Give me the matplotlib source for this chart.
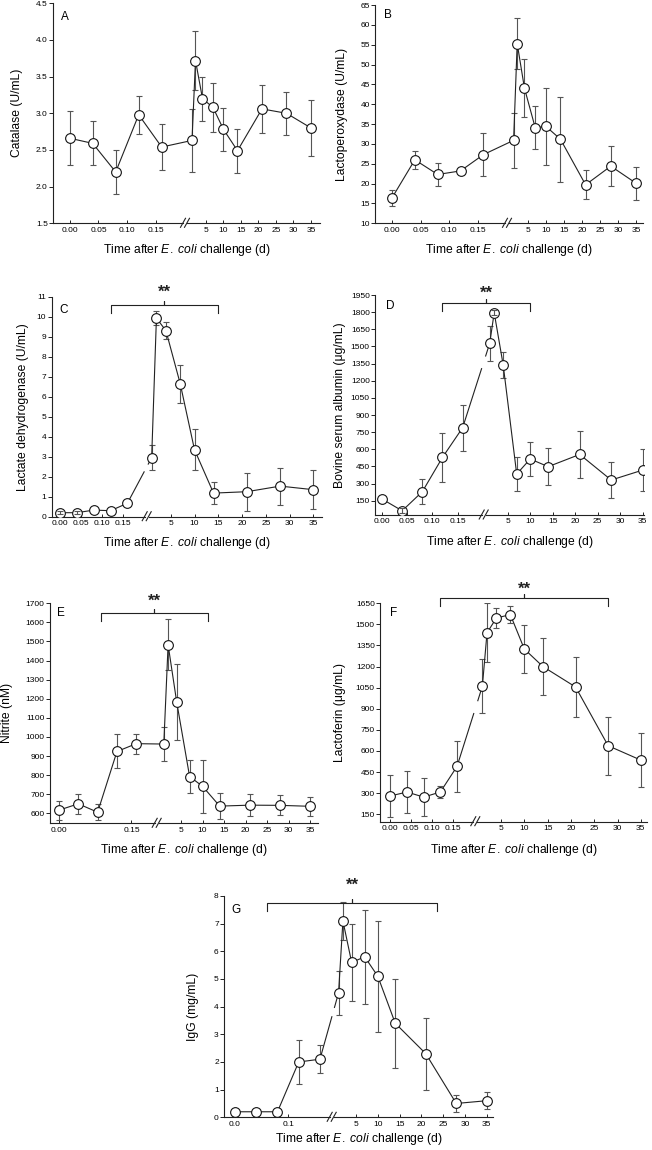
import numpy as np
import matplotlib
matplotlib.use('Agg')
import matplotlib.pyplot as plt

plt.rcParams['font.family'] = ['Liberation Sans', 'DejaVu Sans']
plt.rcParams['mathtext.fontset'] = 'custom'
plt.rcParams['mathtext.rm'] = 'Liberation Sans'
plt.rcParams['mathtext.it'] = 'Liberation Sans:italic'

W, H = 652, 1150

# sampling times (d); first five in the short segment before the axis break
days = [0, 0.04, 0.08, 0.12, 0.16, 1, 2, 4, 7, 10, 14, 21, 28, 35]

catalase = [2.66, 2.59, 2.20, 2.98, 2.54, 2.63, 3.72, 3.20, 3.08, 2.78, 2.49, 3.06, 3.00, 2.80]
catalase_err = [0.37, 0.30, 0.30, 0.26, 0.31, 0.43, 0.40, 0.30, 0.33, 0.29, 0.30, 0.33, 0.29, 0.38]

lpo = [16.4, 26.0, 22.3, 23.2, 27.3, 30.9, 55.3, 44.1, 34.1, 34.4, 31.2, 19.7, 24.4, 20.1]
lpo_err = [2.1, 2.2, 3.0, 0.6, 5.4, 7.0, 6.5, 7.3, 5.5, 9.6, 10.7, 3.7, 5.0, 4.2]

ldh = [0.2, 0.2, 0.33, 0.3, 0.67, 2.95, 9.93, 9.3, 6.65, 3.35, 1.18, 1.25, 1.53, 1.35]
ldh_err = [0.07, 0.07, 0, 0, 0, 0.62, 0.35, 0.42, 0.96, 1.03, 0.56, 0.95, 0.92, 0.98]

bsa = [165, 62, 229, 529, 789, 1527, 1795, 1337, 383, 515, 448, 555, 331, 418]
bsa_err = [0, 20, 108, 215, 200, 153, 20, 111, 146, 153, 160, 203, 157, 186]

nitrite = [617, 650, 606, 924, 965, 963, 1483, 1183, 793, 742, 638, 643, 642, 637]
nitrite_err = [50, 53, 43, 89, 52, 88, 133, 197, 88, 139, 70, 57, 52, 50]

lactoferrin = [280, 308, 272, 308, 490, 1060, 1440, 1545, 1570, 1325, 1200, 1055, 637, 535]
lactoferrin_err = [150, 147, 135, 40, 182, 192, 210, 70, 62, 174, 200, 215, 206, 194]

igg = [0.2, 0.2, 0.2, 2.0, 2.1, 4.5, 7.1, 5.6, 5.8, 5.1, 3.4, 2.3, 0.5, 0.6]
igg_err = [0, 0, 0, 0.8, 0.5, 0.8, 0.7, 1.4, 1.7, 2.0, 1.6, 1.3, 0.3, 0.3]

late_ticks = [5, 10, 15, 20, 25, 30, 35]
early_ticks = [0, 0.05, 0.10, 0.15]
early_labels = ['0.00', '0.05', '0.10', '0.15']

panels = [
    dict(letter='A', ylabel='Catalase (U/mL)', y=catalase, err=catalase_err,
         ylim=(1.5, 4.5), yticks=np.arange(1.5, 4.51, 0.5), yfmt='{:.1f}',
         early=early_ticks, early_lab=early_labels, bracket=None, gap=None, crossed=[],
         box=(53.3, 3.3, 320, 223.3), x0=69.7, s1=575, x5=206, s5=17.5, xb=185,
         let=(61, 16.7), ylab_x=17, xlab_y=250),
    dict(letter='B', ylabel='Lactoperoxydase (U/mL)', y=lpo, err=lpo_err,
         ylim=(10, 65), yticks=np.arange(10, 66, 5), yfmt='{:.0f}',
         early=early_ticks, early_lab=early_labels, bracket=None, gap=None, crossed=[],
         box=(375.3, 5, 642.7, 223.3), x0=392, s1=571, x5=528, s5=18, xb=507,
         let=(383.7, 15), ylab_x=342, xlab_y=250),
    dict(letter='C', ylabel='Lactate dehydrogenase (U/mL)', y=ldh, err=ldh_err,
         ylim=(0, 11), yticks=np.arange(0, 12, 1), yfmt='{:.0f}',
         early=early_ticks, early_lab=early_labels, bracket=(0.12, 15, 10.6, 17),
         gap=(0.69, 0.86), crossed=[0, 1],
         box=(51.7, 296.7, 321.7, 516.7), x0=60, s1=421, x5=170.7, s5=23.8, xb=146.7,
         let=(59.3, 310), ylab_x=23, xlab_y=543),
    dict(letter='D', ylabel='Bovine serum albumin (\u03bcg/mL)', y=bsa, err=bsa_err,
         ylim=(25, 1950), yticks=np.arange(150, 1951, 150), yfmt='{:.0f}',
         early=early_ticks, early_lab=early_labels, bracket=(0.12, 10, 1882, 15),
         gap=(0.70, 0.85), crossed=[1, 6],
         box=(375.3, 295, 643.7, 515), x0=382, s1=504, x5=507.7, s5=22.5, xb=483.7,
         let=(386, 306), ylab_x=340, xlab_y=542),
    dict(letter='E', ylabel='Nitrite (nM)', y=nitrite, err=nitrite_err,
         ylim=(548, 1700), yticks=np.arange(600, 1701, 100), yfmt='{:.0f}',
         early=[0, 0.15], early_lab=['0.00', '0.15'], bracket=(0.087, 11.2, 1650, 17),
         gap=None, crossed=[],
         box=(50, 603.3, 318.3, 823.3), x0=59, s1=483, x5=181, s5=21.5, xb=156.7,
         let=(56.7, 613.3), ylab_x=7, xlab_y=850),
    dict(letter='F', ylabel='Lactoferin (\u03bcg/mL)', y=lactoferrin, err=lactoferrin_err,
         ylim=(97, 1650), yticks=np.arange(150, 1651, 150), yfmt='{:.0f}',
         early=early_ticks, early_lab=early_labels, bracket=(0.12, 28, 1690, 13),
         gap=(0.66, 0.82), crossed=[],
         box=(380.3, 603.3, 647, 821.7), x0=390.3, s1=417, x5=501, s5=23.3, xb=475.3,
         let=(390.3, 613.3), ylab_x=340, xlab_y=850),
    dict(letter='G', ylabel='IgG (mg/mL)', y=igg, err=igg_err,
         ylim=(0, 8), yticks=np.arange(0, 9, 1), yfmt='{:.0f}',
         early=[0, 0.1], early_lab=['0.0', '0.1'], bracket=(0.061, 23.5, 7.76, 22),
         gap=(0.64, 0.78), crossed=[],
         box=(224.3, 896, 493.3, 1117.3), x0=235, s1=531, x5=356, s5=21.8, xb=331.7,
         let=(231.7, 910), ylab_x=193, xlab_y=1139),
]

LINE = '#222222'
EBAR = '#555555'


def broken_scale(x0, s1, x5, s5):
    # piecewise linear time axis: short early segment, break, long late segment
    tk = np.array([-10, 0, 0.17, 1, 5, 100.0])
    uk = np.array([x0 - 10 * s1, x0, x0 + 0.17 * s1, x5 - 0.8 * s5, x5, x5 + 19 * s5])
    return (lambda t: np.interp(t, tk, uk)), (lambda u: np.interp(u, uk, tk))


def draw_panel(fig, p):
    left, top, right, bottom = p['box']
    wpx, hpx = right - left, bottom - top
    ax = fig.add_axes([left / W, 1 - bottom / H, wpx / W, hpx / H])
    fwd, inv = broken_scale(p['x0'], p['s1'], p['x5'], p['s5'])
    ax.set_xscale('function', functions=(fwd, inv))

    t = np.array(days, dtype=float)
    y = np.array(p['y'], dtype=float)
    e = np.array(p['err'], dtype=float)

    ax.errorbar(t, y, yerr=e, fmt='none', ecolor=EBAR, elinewidth=0.8,
                capsize=2, capthick=0.8, zorder=2)
    if p['gap'] is None:
        ax.plot(t, y, '-', color=LINE, lw=0.8, zorder=3)
    else:
        f1, f2 = p['gap']
        u16, u1 = fwd(t[4]), fwd(t[5])
        ta, tb = inv(u16 + f1 * (u1 - u16)), inv(u16 + f2 * (u1 - u16))
        ya, yb = y[4] + f1 * (y[5] - y[4]), y[4] + f2 * (y[5] - y[4])
        ax.plot(np.append(t[:5], ta), np.append(y[:5], ya), '-', color=LINE, lw=0.8, zorder=3)
        ax.plot(np.insert(t[5:], 0, tb), np.insert(y[5:], 0, yb), '-', color=LINE, lw=0.8, zorder=3)
    ax.plot(t, y, 'o', ms=7, mfc='white', mec='#111111', mew=0.8, zorder=4)
    if p['crossed']:
        idx = p['crossed']
        ax.errorbar(t[idx], y[idx], yerr=e[idx], fmt='none', ecolor=EBAR, elinewidth=0.8,
                    capsize=2, capthick=0.8, zorder=5)

    ax.set_xlim(inv(left), inv(right))
    ax.set_ylim(*p['ylim'])
    ax.set_yticks(p['yticks'])
    ax.set_yticklabels([p['yfmt'].format(v) for v in p['yticks']])
    ax.set_xticks(list(p['early']) + late_ticks)
    ax.set_xticklabels(list(p['early_lab']) + [str(v) for v in late_ticks])
    ax.xaxis.set_minor_locator(plt.NullLocator())

    for s in ['top', 'right', 'bottom']:
        ax.spines[s].set_visible(False)
    ax.spines['left'].set_linewidth(0.8)
    ax.spines['left'].set_color(LINE)
    ax.tick_params(axis='y', direction='out', length=3, width=0.7, labelsize=6,
                   pad=1, color=LINE)
    ax.tick_params(axis='x', direction='in', length=2.5, width=0.7, labelsize=6,
                   pad=2.5, color=LINE)
    ax.patch.set_visible(False)

    # bottom axis with break marks
    xbf = (p['xb'] - left) / wpx
    g = 2.0 / wpx
    kw = dict(transform=ax.transAxes, clip_on=False, color=LINE, lw=0.8)
    ax.plot([0, xbf - g], [0, 0], **kw)
    ax.plot([xbf + g, 1], [0, 0], **kw)
    for c in (xbf - g, xbf + g):
        ax.plot([c - 2.5 / wpx, c + 2.5 / wpx], [-4 / hpx, 5 / hpx], **kw)

    # significance bracket
    if p['bracket'] is not None:
        tl, tr, yl, ast = p['bracket']
        ypp = (p['ylim'][1] - p['ylim'][0]) / hpx
        tm = inv((fwd(tl) + fwd(tr)) / 2)
        bx = [tl, tl, tm, tm, tm, tr, tr]
        by = [yl - 8 * ypp, yl, yl, yl + 4 * ypp, yl, yl, yl - 8 * ypp]
        ax.plot(bx, by, color=LINE, lw=0.8, clip_on=False, zorder=6)
        ax.text(tm, yl + (ast - 9.5) * ypp, '**', ha='center', va='baseline',
                fontsize=12, fontweight='bold', color='#222222')

    ax.text((p['let'][0] - left) / wpx, (bottom - p['let'][1]) / hpx, p['letter'],
            transform=ax.transAxes, ha='left', va='center', fontsize=8.5)

    ax.set_ylabel(p['ylabel'], fontsize=8.7)
    ax.yaxis.label.set_va('center')
    ax.yaxis.set_label_coords((p['ylab_x'] - left) / wpx, 0.5)
    ax.set_xlabel(r'Time after $\it{E.\ coli}$ challenge (d)', fontsize=8.7)
    ax.xaxis.label.set_va('center')
    ax.xaxis.set_label_coords(0.5, (bottom - p['xlab_y']) / hpx)
    return ax


fig = plt.figure(figsize=(W / 100, H / 100), dpi=100)
for p in panels:
    draw_panel(fig, p)
fig.savefig('out.png', dpi=100, facecolor='white')
